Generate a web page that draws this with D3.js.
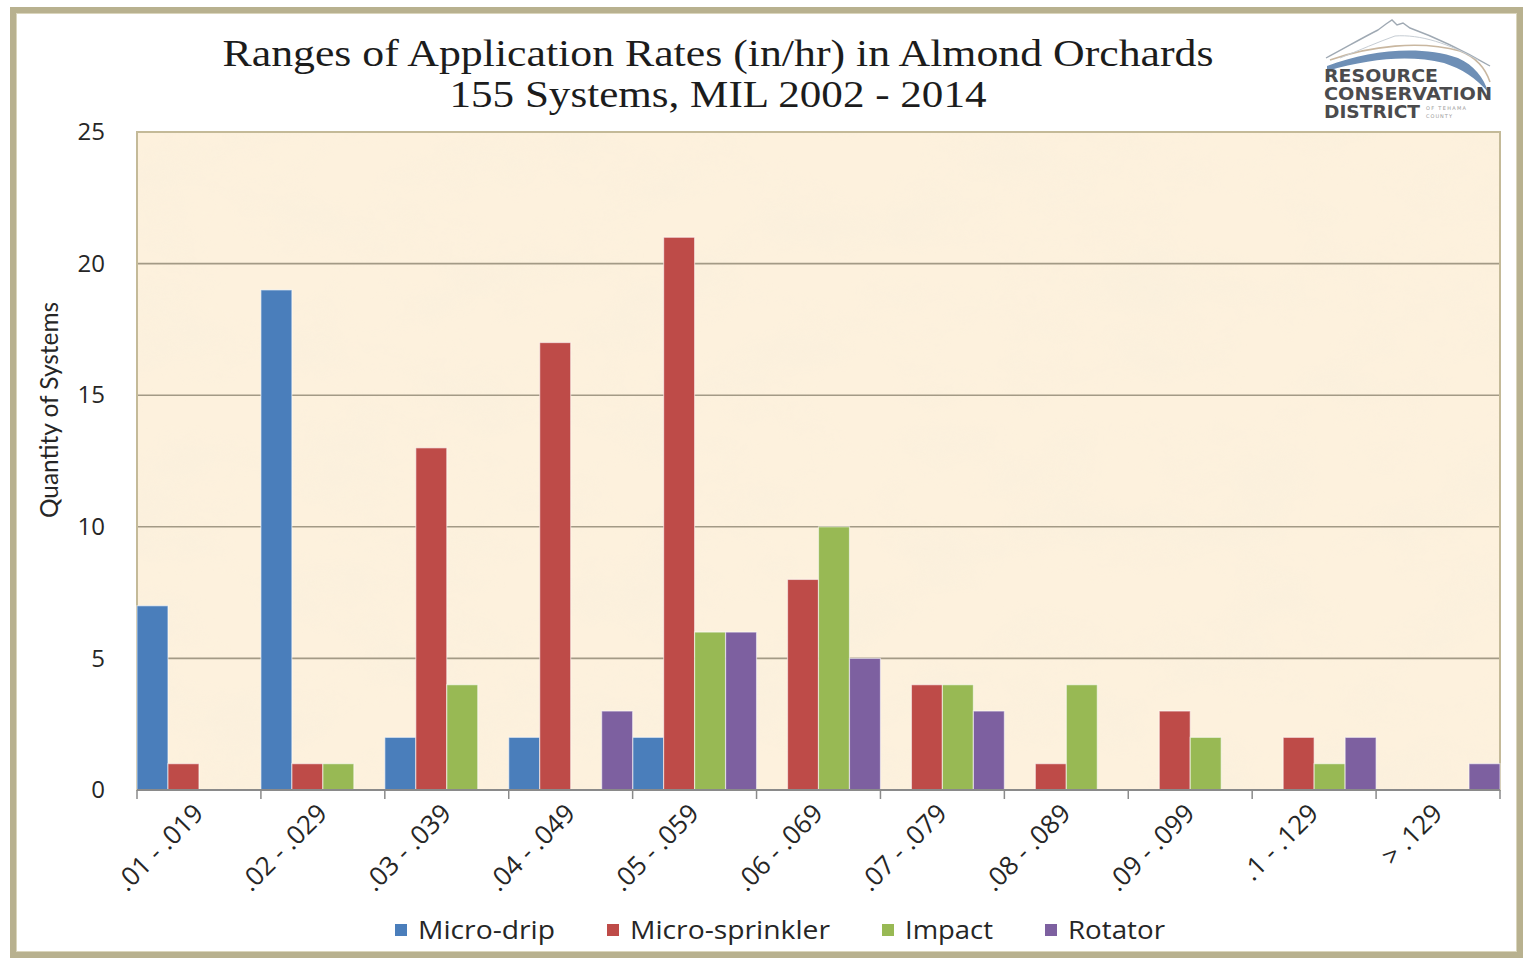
<!DOCTYPE html>
<html>
<head>
<meta charset="utf-8">
<script src="https://cdn.jsdelivr.net/npm/d3@7"></script>
<style>
  body { margin: 0; background: #ffffff; }
  svg text { font-kerning: normal; }
</style>
</head>
<body>
<svg id="chart" width="1526" height="960"></svg>
<script>
// Application-rate ranges (in/hr) and number of systems per sprinkler type
const categories = [".01 - .019", ".02 - .029", ".03 - .039", ".04 - .049", ".05 - .059",
                    ".06 - .069", ".07 - .079", ".08 - .089", ".09 - .099", ".1 - .129", "> .129"];
const seriesNames = ["Micro-drip", "Micro-sprinkler", "Impact", "Rotator"];
const microDrip      = [7, 19, 2, 2, 2, 0, 0, 0, 0, 0, 0];
const microSprinkler = [1, 1, 13, 17, 21, 8, 4, 1, 3, 2, 0];
const impact         = [0, 1, 4, 0, 6, 10, 4, 4, 2, 1, 0];
const rotator        = [0, 0, 0, 3, 6, 5, 3, 0, 0, 2, 1];
const yTicks = [0, 5, 10, 15, 20, 25];
const titleLines = ["Ranges of Application Rates (in/hr) in Almond Orchards", "155 Systems, MIL 2002 - 2014"];
const yAxisTitle = "Quantity of Systems";
const seriesColors = ["#4A7EBB", "#BE4B48", "#98B954", "#7D60A0"];

const seriesValues = [microDrip, microSprinkler, impact, rotator];
const bars = [];
seriesNames.forEach((s, si) => {
  categories.forEach((c, ci) => {
    const v = seriesValues[si][ci];
    if (v > 0) bars.push({ series: s, category: c, value: v, color: seriesColors[si] });
  });
});

const svg = d3.select("#chart");
const plot = { left: 137, right: 1500, top: 132, bottom: 790 };
const sansFont = "'Open Sans', 'DejaVu Sans', sans-serif";

const x = d3.scaleBand().domain(categories).range([plot.left, plot.right]).paddingInner(0).paddingOuter(0);
const xInner = d3.scaleBand().domain(seriesNames).range([0, x.bandwidth()]).padding(0);
const y = d3.scaleLinear().domain([0, 25]).range([plot.bottom, plot.top]);

// ---- defs: parchment texture for the plot area ----
const defs = svg.append("defs");
const f = defs.append("filter").attr("id", "parchment")
  .attr("filterUnits", "userSpaceOnUse")
  .attr("x", plot.left).attr("y", plot.top)
  .attr("width", plot.right - plot.left).attr("height", plot.bottom - plot.top);
f.append("feTurbulence").attr("type", "fractalNoise").attr("baseFrequency", "0.01 0.016")
  .attr("numOctaves", 5).attr("seed", 11).attr("result", "noise");
f.append("feColorMatrix").attr("in", "noise").attr("type", "matrix")
  .attr("values", "0 0 0 0 0.94  0 0 0 0 0.86  0 0 0 0 0.72  1.6 0 0 0 -0.62")
  .attr("result", "tint");
f.append("feComposite").attr("in", "tint").attr("in2", "SourceGraphic").attr("operator", "in");

// ---- outer frame ----
svg.append("rect").attr("x", 13).attr("y", 10).attr("width", 1507).attr("height", 945)
  .attr("fill", "#ffffff").attr("stroke", "#B8B18F").attr("stroke-width", 6);
svg.append("rect").attr("x", 16.5).attr("y", 13.5).attr("width", 1500).attr("height", 938)
  .attr("fill", "none").attr("stroke", "#DAD5BC").attr("stroke-width", 1);

// ---- plot area background ----
svg.append("rect").attr("x", plot.left).attr("y", plot.top)
  .attr("width", plot.right - plot.left).attr("height", plot.bottom - plot.top)
  .attr("fill", "#FDF1DD");
svg.append("rect").attr("x", plot.left).attr("y", plot.top)
  .attr("width", plot.right - plot.left).attr("height", plot.bottom - plot.top)
  .attr("fill", "#ffffff").attr("filter", "url(#parchment)").attr("opacity", 0.6);

// ---- gridlines ----
svg.append("g").selectAll("line").data(yTicks.filter(t => t > 0 && t < 25)).join("line")
  .attr("x1", plot.left).attr("x2", plot.right)
  .attr("y1", d => y(d)).attr("y2", d => y(d))
  .attr("stroke", "#A39A86").attr("stroke-width", 1.6);

// plot border
svg.append("rect").attr("x", plot.left).attr("y", plot.top)
  .attr("width", plot.right - plot.left).attr("height", plot.bottom - plot.top)
  .attr("fill", "none").attr("stroke", "#C4BA98").attr("stroke-width", 2);

// ---- bars ----
svg.append("g").selectAll("rect").data(bars).join("rect")
  .attr("x", d => x(d.category) + xInner(d.series))
  .attr("y", d => y(d.value))
  .attr("width", xInner.bandwidth())
  .attr("height", d => y(0) - y(d.value))
  .attr("fill", d => d.color)
  .attr("stroke", "rgba(255,255,255,0.55)").attr("stroke-width", 1.2);

// ---- x axis: baseline, boundary ticks, rotated labels ----
svg.append("line").attr("x1", plot.left).attr("x2", plot.right)
  .attr("y1", y(0)).attr("y2", y(0)).attr("stroke", "#8A8A8A").attr("stroke-width", 2);
const boundaries = categories.map(c => x(c)).concat([x.range()[1]]);
svg.append("g").selectAll("line").data(boundaries).join("line")
  .attr("x1", d => d).attr("x2", d => d)
  .attr("y1", y(0)).attr("y2", y(0) + 9)
  .attr("stroke", "#8A8A8A").attr("stroke-width", 1.5);

const xAxis = svg.append("g").attr("transform", `translate(0,${y(0)})`)
  .call(d3.axisBottom(x).tickSize(0).tickPadding(0));
xAxis.select(".domain").remove();
xAxis.selectAll("text")
  .attr("font-family", sansFont).attr("font-size", 26).attr("fill", "#262626")
  .attr("text-anchor", "end").attr("dy", 0).attr("y", 0)
  .attr("transform", "translate(6,25) rotate(-45)");

// ---- y axis labels ----
const yAxis = svg.append("g").attr("transform", `translate(${plot.left},0)`)
  .call(d3.axisLeft(y).tickValues(yTicks).tickSize(0).tickPadding(32));
yAxis.select(".domain").remove();
yAxis.selectAll("text")
  .attr("font-family", sansFont).attr("font-size", 24).attr("fill", "#262626");

svg.append("text")
  .attr("transform", "translate(58,410) rotate(-90)")
  .attr("text-anchor", "middle")
  .attr("font-family", "Lato, 'Open Sans', sans-serif").attr("font-size", 25).attr("fill", "#262626")
  .attr("textLength", 216).attr("lengthAdjust", "spacingAndGlyphs")
  .text(yAxisTitle);

// ---- title ----
const titleWidths = [991, 537];
const titleBaselines = [66, 107];
svg.append("g").selectAll("text").data(titleLines).join("text")
  .attr("x", 718).attr("y", (d, i) => titleBaselines[i])
  .attr("text-anchor", "middle")
  .attr("font-family", "'Liberation Serif', 'DejaVu Serif', serif")
  .attr("font-size", 38).attr("fill", "#1c1c1c")
  .attr("textLength", (d, i) => titleWidths[i]).attr("lengthAdjust", "spacingAndGlyphs")
  .text(d => d);

// ---- legend ----
const legendTextWidths = [137, 200, 88, 97];
const legend = svg.append("g");
const items = legend.selectAll("g").data(seriesNames).join("g");
items.append("rect").attr("width", 12).attr("height", 12).attr("y", -6)
  .attr("fill", (d, i) => seriesColors[i]);
items.append("text").attr("x", 23).attr("y", 9)
  .attr("font-family", sansFont).attr("font-size", 25).attr("fill", "#262626")
  .attr("textLength", (d, i) => legendTextWidths[i]).attr("lengthAdjust", "spacingAndGlyphs")
  .text(d => d);
let cursor = 0;
items.each(function (d, i) {
  d3.select(this).attr("transform", `translate(${cursor},0)`);
  cursor += 23 + legendTextWidths[i] + 52;
});
const legendWidth = cursor - 52;
legend.attr("transform", `translate(${780 - legendWidth / 2},930)`);

// ---- district logo ----
const logo = svg.append("g");
logo.append("path")
  .attr("d", "M1327,66 C1370,50 1420,45 1458,58 C1474,65 1484,78 1488,92 C1476,78 1462,69 1444,63 C1410,55 1372,58 1327,71 Z")
  .attr("fill", "#6E8FB6");
logo.append("path")
  .attr("d", "M1330,60 C1370,46 1420,40 1460,51 C1478,58 1486,70 1490,82")
  .attr("fill", "none").attr("stroke", "#C9B7A0").attr("stroke-width", 1.6);
logo.append("path")
  .attr("d", "M1326,58 C1345,48 1362,38 1378,30 L1386,24 L1392,20 L1397,25 L1403,23 L1410,28 C1432,36 1462,50 1490,66")
  .attr("fill", "none").attr("stroke", "#9FA9B3").attr("stroke-width", 1.4);
logo.append("path")
  .attr("d", "M1340,58 C1360,50 1378,42 1395,36 C1420,34 1450,44 1478,60")
  .attr("fill", "none").attr("stroke", "#C6CDD4").attr("stroke-width", 1);
const logoWords = [
  { t: "RESOURCE", x: 1324, y: 82, w: 114 },
  { t: "CONSERVATION", x: 1324, y: 100, w: 168 },
  { t: "DISTRICT", x: 1324, y: 118, w: 96 }
];
logo.selectAll("text.word").data(logoWords).join("text").attr("class", "word")
  .attr("x", d => d.x).attr("y", d => d.y)
  .attr("font-family", "'DejaVu Sans', sans-serif").attr("font-weight", "bold")
  .attr("font-size", 17).attr("fill", "#4B4B4D")
  .attr("textLength", d => d.w).attr("lengthAdjust", "spacingAndGlyphs")
  .text(d => d.t);
logo.append("text").attr("x", 1426).attr("y", 110)
  .attr("font-family", "'DejaVu Sans', sans-serif").attr("font-size", 5).attr("fill", "#9A9A9A")
  .attr("textLength", 40).text("OF TEHAMA");
logo.append("text").attr("x", 1426).attr("y", 118)
  .attr("font-family", "'DejaVu Sans', sans-serif").attr("font-size", 5).attr("fill", "#9A9A9A")
  .attr("textLength", 26).text("COUNTY");
</script>
</body>
</html>
